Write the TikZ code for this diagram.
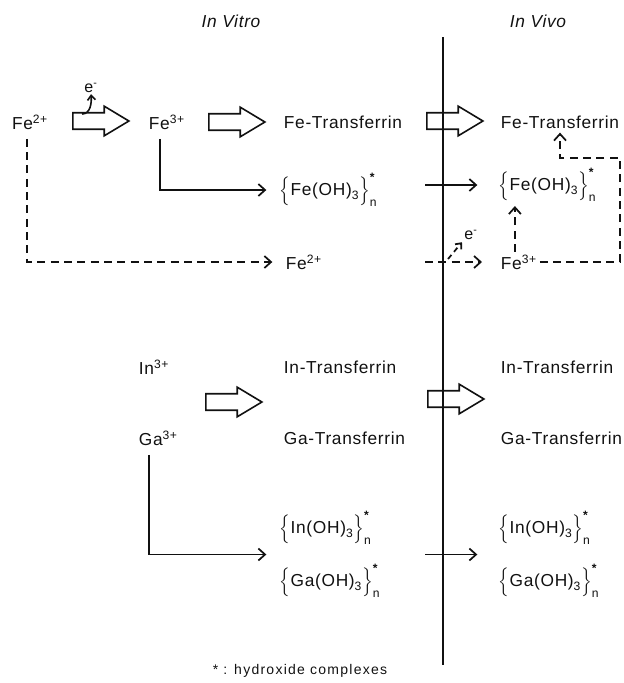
\documentclass[tikz,border=0pt]{standalone}
\usepackage{amsmath}
\usepackage{fontspec}
\setmainfont{Liberation Sans}[LetterSpace=4]
\newfontfamily\notefont{Liberation Sans}[LetterSpace=9]
\usepackage{xcolor}
\usepackage{tikz}
\usetikzlibrary{positioning,arrows.meta,calc,shapes.arrows}
\definecolor{ink}{HTML}{111111}
\newcommand{\chemsize}{\fontsize{13}{15}\selectfont}
\newcommand{\notesize}{\notefont\fontsize{10.5}{12}\selectfont}
\newcommand{\hydx}[1]{$\Bigl\{\text{#1(OH)}_{\text{3}}\Bigr\}_{\text{n}}^{\text{\bfseries *}}$}

\begin{document}
\begin{tikzpicture}[x=0.75pt,y=-0.75pt,font=\chemsize,color=ink,
  chem/.style={inner sep=2pt},
  flow/.style={draw=ink,line width=1.3pt,-{Straight Barb[length=5pt,width=9pt]},shorten >=8pt},
  dashflow/.style={flow,dash pattern=on 6pt off 4pt},
  fromion/.style={shorten <=5pt},
  blockarrow/.style={single arrow,draw=ink,line width=1.2pt,
    minimum height=42pt,minimum width=21pt,single arrow head extend=4.9pt,
    single arrow tip angle=62,inner xsep=0pt,inner ysep=5.6pt}]
  \useasboundingbox (0,0) rectangle (624,683);
  %% headings and the in vitro / in vivo divide
  \node[font=\chemsize\itshape] (vitro) at (231,21) {In Vitro};
  \node[font=\chemsize\itshape] (vivo) at (538,21) {In Vivo};
  \draw[draw=ink,line width=1pt] (443,37) -- (443,665);
  \coordinate (vivoin) at (425,0);
  %% iron, in vitro
  \node[chem] (fetwo) at (30,122) {Fe\textsuperscript{2+}};
  \node[chem,anchor=west] (fethree) at (146,122) {Fe\textsuperscript{3+}};
  \node[chem,anchor=west] (fetrans) at (281,122) {Fe-Transferrin};
  \node[chem,anchor=west] (hydfe) at (277,190) {\hydx{Fe}};
  \node[chem,anchor=west] (fetwoM) at (283,262) {Fe\textsuperscript{2+}};
  %% iron, in vivo
  \node[chem,anchor=west] (fetransR) at (498,122) {Fe-Transferrin};
  \node[chem,anchor=west] (hydfeR) at (496,185) {\hydx{Fe}};
  \node[chem,anchor=west] (fethreeR) at (498,262) {Fe\textsuperscript{3+}};
  %% indium and gallium
  \node[chem,anchor=west] (inthree) at (136,367) {In\textsuperscript{3+}};
  \node[chem,anchor=west] (gathree) at (136,438) {Ga\textsuperscript{3+}};
  \node[chem,anchor=west] (intrans) at (281,367) {In-Transferrin};
  \node[chem,anchor=west] (gatrans) at (281,438) {Ga-Transferrin};
  \node[chem,anchor=west] (hydin) at (277,528) {\hydx{In}};
  \node[chem,anchor=west] (hydga) at (277,581) {\hydx{Ga}};
  \node[chem,anchor=west] (intransR) at (498,367) {In-Transferrin};
  \node[chem,anchor=west] (gatransR) at (498,438) {Ga-Transferrin};
  \node[chem,anchor=west] (hydinR) at (496,528) {\hydx{In}};
  \node[chem,anchor=west] (hydgaR) at (496,581) {\hydx{Ga}};
  %% open block arrows
  \foreach \nm/\x/\y in {ba1/94/121, ba2/230/122, ba3/448/121, ba4/227/402, ba5/449/399}
    \node[blockarrow] (\nm) at (\x,\y) {};
  %% electrons given off
  \node[font=\fontsize{12}{13}\selectfont,inner sep=1pt] (eone) at (91,88) {e\textsuperscript{-}};
  \node[font=\fontsize{12}{13}\selectfont,inner sep=1pt] (etwo) at (471,235) {e\textsuperscript{-}};
  \coordinate (eonefoot) at (82,114);
  \coordinate (etwofoot) at (448,259);
  \draw[draw=ink,line width=1.2pt,-{Straight Barb[length=3.5pt,width=6pt]}]
    (eonefoot) to[out=0,in=-85] (eone.south);
  \draw[dashflow,shorten >=1pt,dash pattern=on 4pt off 3pt,-{Straight Barb[length=3.5pt,width=6pt]}]
    (etwofoot) -- (etwo.south west);
  %% connectors
  \draw[flow,fromion] ([xshift=-5pt]fethree.south) |- (hydfe.west);
  \draw[dashflow,fromion] ([xshift=-2pt]fetwo.south) |- (fetwoM.west);
  \draw[flow,shorten >=14pt] (vivoin |- hydfeR.west) -- (hydfeR.west);
  \draw[dashflow,shorten >=12pt] (vivoin |- fethreeR.west) -- (fethreeR.west);
  \draw[dashflow,shorten >=1pt] ([xshift=-3pt]fethreeR.north) -- ([xshift=-3pt]fethreeR.north |- hydfeR.south);
  \coordinate (loopturn) at (620,158);
  \draw[dashflow,shorten >=1pt] (fethreeR.east) -| (loopturn) -| (fetransR.south);
  \coordinate (hydpair) at ($(hydin.west)!0.5!(hydga.west)$);
  \coordinate (hydpairR) at ($(hydinR.west)!0.5!(hydgaR.west)$);
  \draw[flow,fromion] ([xshift=-7pt]gathree.south) |- (hydpair);
  \draw[flow,shorten >=14pt] (vivoin |- hydpairR) -- (hydpairR);
  %% footnote
  \node[font=\notesize] (note) at (300,671) {* : hydroxide complexes};
\end{tikzpicture}
\end{document}
